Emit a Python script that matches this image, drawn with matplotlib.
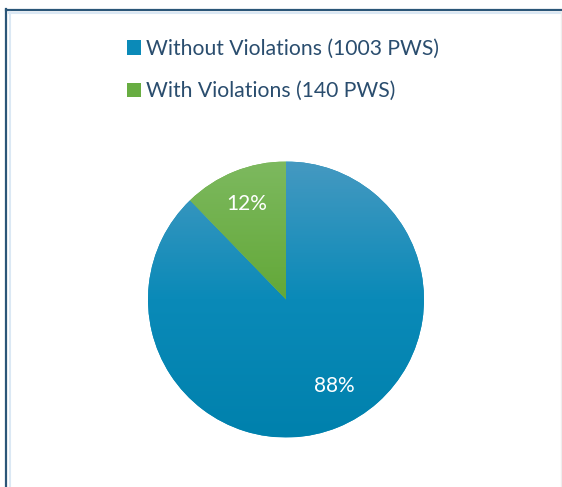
import matplotlib
matplotlib.use("Agg")
import matplotlib.pyplot as plt
import numpy as np
from matplotlib.colors import LinearSegmentedColormap
from matplotlib.lines import Line2D

# data
labels = ["Without Violations (1003 PWS)", "With Violations (140 PWS)"]
counts = [1003, 140]
colors = ["#0b8ab8", "#68ad42"]
grad_stops = [["#4599c1", "#0a8ab8", "#0081ad"],
              ["#7db95f", "#63a838", "#5a9f30"]]

W, H = 562, 487
fig = plt.figure(figsize=(W / 100, H / 100), dpi=100)
plt.rcParams['font.family'] = ['Lato', 'DejaVu Sans']

# frame lines around the chart area (pixel coords -> figure fraction)
def fx(x):
    return x / W

def fy(y):
    return 1 - y / H

fig.add_artist(Line2D([fx(6), fx(W)], [fy(9.5), fy(9.5)], color="#2b5678", lw=1.6))
fig.add_artist(Line2D([fx(6.5), fx(6.5)], [fy(9), fy(H)], color="#2b5678", lw=1.6))
fig.add_artist(Line2D([fx(9), fx(W)], [fy(12.5), fy(12.5)], color="#dbe8f4", lw=1.5))
fig.add_artist(Line2D([fx(9.5), fx(9.5)], [fy(12), fy(H)], color="#dbe8f4", lw=1.5))
fig.add_artist(Line2D([fx(560.5), fx(560.5)], [fy(12), fy(H)], color="#eeeeee", lw=1))

# pie axes: center (286, 299.5), radius 138 px
r = 138
cx, cy = 286, 299.5
ax = fig.add_axes([fx(cx - r), fy(cy + r), 2 * r / W, 2 * r / H])
wedges, texts, autotexts = ax.pie(counts, colors=colors, startangle=90, counterclock=False,
                                  autopct="%.0f%%", pctdistance=0.75,
                                  wedgeprops=dict(linewidth=0),
                                  textprops=dict(color="white", fontsize=15))
ax.set_xlim(-1, 1)
ax.set_ylim(-1, 1)

# vertical gradient fill clipped to each wedge
grad = np.linspace(1, 0, 256).reshape(-1, 1)
for w, stops in zip(wedges, grad_stops):
    cmap = LinearSegmentedColormap.from_list("g", stops[::-1])
    im = ax.imshow(grad, extent=(-1, 1, -1, 1), cmap=cmap, aspect="auto",
                   origin="upper", zorder=w.get_zorder() + 0.1)
    im.set_clip_path(w)
for t in autotexts:
    t.set_zorder(5)

# Excel places the big label a bit more to the right
ang = np.deg2rad(-61)
autotexts[0].set_position((0.72 * np.cos(ang), 0.72 * np.sin(ang)))

leg = fig.legend(wedges, labels, loc="upper left", bbox_to_anchor=(fx(108), fy(20)),
                 frameon=False, fontsize=15.2, labelcolor="#2a4d6e",
                 handlelength=0.68, handleheight=0.68, handletextpad=0.2,
                 labelspacing=1.05)

fig.savefig("out.png", dpi=100)
